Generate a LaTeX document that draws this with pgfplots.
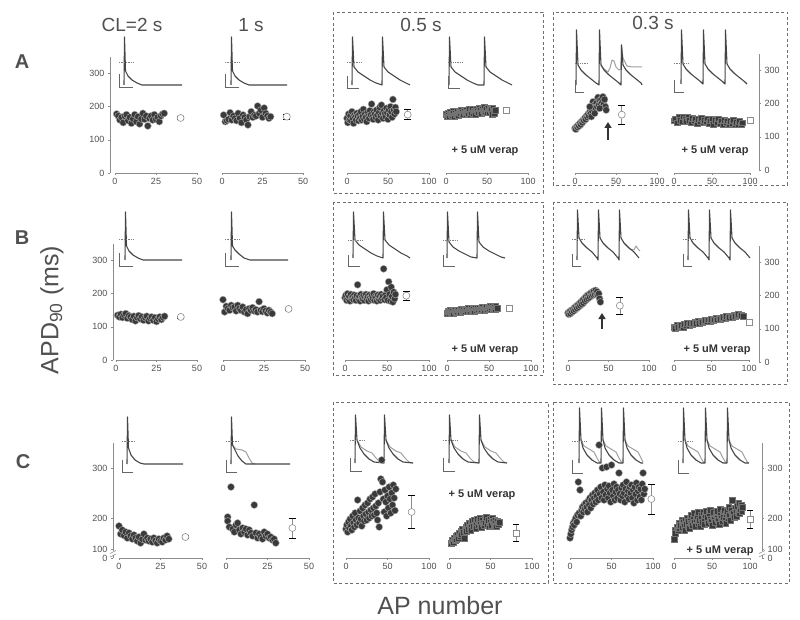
\documentclass[border=0pt]{standalone}
\usepackage{fontspec}
\setmainfont{Liberation Sans}
\usepackage{pgfplots}
\pgfplotsset{compat=1.18}
\usetikzlibrary{arrows.meta}
\definecolor{txt}{HTML}{505050}
\definecolor{axl}{HTML}{8C8C8C}
\definecolor{dotc}{HTML}{3A3A3A}
\definecolor{trcc}{HTML}{454545}
\definecolor{boxc}{HTML}{6E6E6E}
\newcommand\tl{\fontsize{9}{10}\selectfont}
\pgfplotsset{
  base/.style={scale only axis, clip=false, tick align=outside, major tick length=2pt,
    tick style={draw=axl, line width=0.5pt},
    tick label style={font=\tl, text=txt},
    /pgf/number format/assume math mode=true},
  panel/.style={base, axis x line*=bottom, axis y line=none,
    x axis line style={draw=axl, line width=0.7pt, -}, xmin=0},
  rowA/.style={ymin=0, ymax=350, height=116pt},
  rowC/.style={ymin=120, ymax=350, height=115pt},
  sh/.style={xmax=50, xtick={0,25,50}},
  lg/.style={xmax=100, xtick={0,50,100}},
  yL/.style={base, width=1pt, xmin=0, xmax=1, axis x line=none, axis y line*=left,
    y axis line style={draw=axl, line width=0.7pt, -}, ytick={0,100,200,300}},
  yR/.style={base, width=1pt, xmin=0, xmax=1, axis x line=none, axis y line*=right,
    y axis line style={draw=axl, line width=0.7pt, -}, ytick={0,100,200,300}},
  dots/.style={only marks, mark=*, mark size=3.5pt, mark options={fill=dotc, draw=gray!60, line width=0.4pt}},
  sqs/.style={only marks, mark=square*, mark size=2.9pt, mark options={fill=dotc, draw=black!55, line width=0.3pt}},
  meanc/.style={only marks, mark=*, mark size=3.5pt, mark options={fill=white, draw=axl, line width=0.6pt},
    error bars/y dir=both, error bars/y explicit, error bars/error bar style={draw=axl, line width=0.6pt}},
  means/.style={only marks, mark=square*, mark size=3pt, mark options={fill=white, draw=axl, line width=0.6pt},
    error bars/y dir=both, error bars/y explicit, error bars/error bar style={draw=axl, line width=0.6pt}},
  trc/.style={no marks, draw=trcc, line width=1.1pt, line join=round},
  trl/.style={no marks, draw=gray!75, line width=1.0pt, line join=round},
  sbar/.style={no marks, draw=gray!80!black, line width=0.8pt},
  zl/.style={no marks, draw=gray, densely dotted, line width=0.7pt},
}
\begin{document}
\begin{tikzpicture}
\useasboundingbox (0pt,0pt) rectangle (800pt,620pt);

% ---------- overlay: traces, boxes, text (pixel coordinates) ----------
\begin{axis}[at={(0pt,0pt)}, anchor=south west, scale only axis, width=800pt, height=620pt,
  xmin=0, xmax=800, ymin=0, ymax=620, y dir=reverse, hide axis, clip=false]
\draw[boxc, dashed, dash pattern=on 3pt off 2.5pt, line width=0.8pt] (333,12) rectangle (543,193);
\draw[boxc, dashed, dash pattern=on 3pt off 2.5pt, line width=0.8pt] (553,12) rectangle (787,185);
\draw[boxc, dashed, dash pattern=on 3pt off 2.5pt, line width=0.8pt] (333,202) rectangle (543,375);
\draw[boxc, dashed, dash pattern=on 3pt off 2.5pt, line width=0.8pt] (553,202) rectangle (787,384);
\draw[boxc, dashed, dash pattern=on 3pt off 2.5pt, line width=0.8pt] (333,402) rectangle (548,583);
\draw[boxc, dashed, dash pattern=on 3pt off 2.5pt, line width=0.8pt] (553,402) rectangle (789,583);

% row A traces
\addplot[trc] coordinates {(124,85)(124.5,37)(125.5,71)(128,76)(132,80)(137,83)(142,85)(182,85)};
\addplot[trc] coordinates {(231,85)(231.5,37)(232.5,71)(235,76)(239,80)(244,83)(249,85)(287,85)};
\addplot[trc] coordinates {(352,85)(352.5,37)(354,67)(358,72)(364,76)(370,80)(376,83)(382,85)(382.5,37)(384,67)(388,72)(394,76)(400,80)(406,83)(410,85)};
\addplot[trc] coordinates {(449,85)(449.5,37)(451,67)(455,72)(461,76)(467,80)(473,83)(478,85)(484,85)(484.5,37)(486,67)(490,72)(496,76)(502,80)(508,83)(512,85)};
\addplot[trl] coordinates {(601,65)(604,69)(608,72)(610,68)(612,60)(614,61)(616,67)(619,70)(621,69)(621.5,45)(623,58)(627,66)(632,67)(642,67)};
\addplot[trc] coordinates {(576,85)(576.5,30)(578,65)(581,70)(586,75)(591,79)(596,83)(599,85)(599.5,30)(601,65)(604,70)(609,75)(614,79)(619,83)(621,85)(621.5,45)(623,65)(626,70)(631,75)(636,79)(641,83)(642,85)};
\addplot[trc] coordinates {(681,84)(681.5,30)(683,64)(686,69)(691,74)(696,78)(701,82)(703,84)(703.5,30)(705,64)(708,69)(713,74)(718,78)(723,82)(725,84)(725.5,30)(727,64)(730,69)(735,74)(740,78)(745,82)(747,84)};
% row B traces
\addplot[trc] coordinates {(125,260)(125.5,212)(126.5,246)(129,251)(133,255)(138,258)(143,260)(182,260)};
\addplot[trc] coordinates {(231,260)(231.5,212)(232.5,246)(235,250)(239,254)(244,258)(250,260)(288,260)};
\addplot[trc] coordinates {(353,258)(353.5,212)(355,240)(359,245)(365,249)(371,253)(377,256)(383,258)(383.5,212)(385,240)(389,245)(395,249)(401,253)(407,256)(410,258)};
\addplot[trc] coordinates {(447,258)(447.5,212)(449,242)(453,247)(459,251)(465,254)(471,257)(477,258)(477.5,212)(479,242)(483,247)(489,251)(495,254)(501,257)(505,258)};
\addplot[trl] coordinates {(624,243)(630,249)(634,250)(636,246)(638,249)(640,251)};
\addplot[trc] coordinates {(577,260)(577.5,210)(579,238)(582,243)(587,248)(592,252)(597,258)(598,260)(598.5,210)(600,238)(603,243)(608,248)(613,252)(618,258)(619,260)(619.5,210)(621,238)(624,243)(629,248)(634,252)(639,258)};
\addplot[trc] coordinates {(688,260)(688.5,210)(690,238)(693,243)(698,248)(703,252)(708,258)(709,260)(709.5,210)(711,238)(714,243)(719,248)(724,252)(729,258)(730,260)(730.5,210)(732,238)(735,243)(740,248)(745,252)(750,258)};
% row C traces
\addplot[trc] coordinates {(127,464)(127.5,417)(128.5,448)(131,455)(135,460)(140,463)(144,464)(183,464)};
\addplot[trl] coordinates {(232.5,445)(236,449)(242,450)(246,452)(249,458)(252,463)(255,464)};
\addplot[trc] coordinates {(231,464)(231.5,417)(232.5,445)(235,450)(238,456)(242,461)(246,464)(290,464)};
\addplot[trl] coordinates {(357,440)(361,447)(367,451)(372,453)(376,458)(380,462)(384,463)};
\addplot[trl] coordinates {(386,440)(390,447)(396,451)(401,453)(405,458)(409,462)(413,463)};
\addplot[trc] coordinates {(355,463)(355.5,415)(357,440)(360,448)(364,454)(369,459)(374,462)(384,463)(384.5,415)(386,440)(389,448)(393,454)(398,459)(403,462)(413,463)};
\addplot[trl] coordinates {(451,440)(455,447)(461,451)(466,453)(470,458)(474,462)(479,463)};
\addplot[trl] coordinates {(481,440)(485,447)(491,451)(496,453)(500,458)(504,462)(507,463)};
\addplot[trc] coordinates {(449,463)(449.5,415)(451,440)(454,448)(458,454)(463,459)(468,462)(479,463)(479.5,415)(481,440)(484,448)(488,454)(493,459)(498,462)(507,463)};
\addplot[trl] coordinates {(581,440)(584,446)(589,449)(594,452)(597,458)(600,463)};
\addplot[trl] coordinates {(603,440)(606,446)(611,449)(616,452)(619,458)(622,463)};
\addplot[trl] coordinates {(625,440)(628,446)(633,449)(638,452)(641,458)(643,462)};
\addplot[trc] coordinates {(579,463)(579.5,408)(581,440)(583,448)(587,455)(592,460)(597,463)(601,463)(601.5,408)(603,440)(605,448)(609,455)(614,460)(619,463)(623,463)(623.5,408)(625,440)(627,448)(631,455)(636,460)(641,463)(643,463)};
\addplot[trl] coordinates {(685,440)(688,446)(693,449)(698,452)(701,458)(704,463)};
\addplot[trl] coordinates {(707,440)(710,446)(715,449)(720,452)(723,458)(726,463)};
\addplot[trl] coordinates {(729,440)(732,446)(737,449)(742,452)(745,458)(748,463)};
\addplot[trc] coordinates {(683,463)(683.5,408)(685,440)(687,448)(691,455)(696,460)(701,463)(705,463)(705.5,408)(707,440)(709,448)(713,455)(718,460)(723,463)(727,463)(727.5,408)(729,440)(731,448)(735,455)(740,460)(745,463)(749,463)};

% scale bars and zero-voltage marks
\addplot[sbar] coordinates {(119,74)(119,87)(133,87)};   \addplot[zl] coordinates {(119,62)(133,62)};
\addplot[sbar] coordinates {(225,74)(225,87)(239,87)};   \addplot[zl] coordinates {(225,62)(239,62)};
\addplot[sbar] coordinates {(347,76)(347,88)(359,88)};   \addplot[zl] coordinates {(347,62)(362,62)};
\addplot[sbar] coordinates {(448,76)(448,88)(460,88)};   \addplot[zl] coordinates {(448,62)(463,62)};
\addplot[sbar] coordinates {(575,80)(575,92)(584,92)};   \addplot[zl] coordinates {(575,63)(588,63)};
\addplot[sbar] coordinates {(674,80)(674,92)(684,92)};   \addplot[zl] coordinates {(674,63)(689,63)};
\addplot[sbar] coordinates {(119,253)(119,266)(133,266)}; \addplot[zl] coordinates {(119,239)(133,239)};
\addplot[sbar] coordinates {(225,253)(225,266)(239,266)}; \addplot[zl] coordinates {(225,239)(239,239)};
\addplot[sbar] coordinates {(348,255)(348,266)(360,266)}; \addplot[zl] coordinates {(348,240)(362,240)};
\addplot[sbar] coordinates {(443,255)(443,266)(455,266)}; \addplot[zl] coordinates {(443,240)(457,240)};
\addplot[sbar] coordinates {(572,254)(572,266)(581,266)}; \addplot[zl] coordinates {(572,239)(585,239)};
\addplot[sbar] coordinates {(683,254)(683,266)(692,266)}; \addplot[zl] coordinates {(683,239)(696,239)};
\addplot[sbar] coordinates {(122,460)(122,472)(133,472)}; \addplot[zl] coordinates {(122,441)(135,441)};
\addplot[sbar] coordinates {(226,460)(226,472)(237,472)}; \addplot[zl] coordinates {(226,441)(239,441)};
\addplot[sbar] coordinates {(350,458)(350,471)(362,471)}; \addplot[zl] coordinates {(350,440)(364,440)};
\addplot[sbar] coordinates {(443,458)(443,471)(455,471)}; \addplot[zl] coordinates {(443,440)(457,440)};
\addplot[sbar] coordinates {(572,460)(572,473)(583,473)}; \addplot[zl] coordinates {(572,441)(586,441)};
\addplot[sbar] coordinates {(678,460)(678,473)(689,473)}; \addplot[zl] coordinates {(678,441)(692,441)};

% labels
\node[font=\bfseries\fontsize{20}{22}\selectfont, text=txt] at (22,62) {A};
\node[font=\bfseries\fontsize{20}{22}\selectfont, text=txt] at (22,238) {B};
\node[font=\bfseries\fontsize{20}{22}\selectfont, text=txt] at (23,462) {C};
\node[font=\fontsize{19}{21}\selectfont, text=txt] at (132,25) {CL=2 s};
\node[font=\fontsize{19}{21}\selectfont, text=txt] at (251,25) {1 s};
\node[font=\fontsize{19}{21}\selectfont, text=txt] at (421,25) {0.5 s};
\node[font=\fontsize{19}{21}\selectfont, text=txt] at (653,23) {0.3 s};
\node[rotate=90, font=\fontsize{25}{28}\selectfont, text=txt] at (52,310) {APD\textsubscript{90} (ms)};
\node[font=\fontsize{25}{28}\selectfont, text=txt] at (440,606) {AP number};
\node[font=\bfseries\fontsize{11}{12}\selectfont, text=black!80] at (485,151) {+ 5 uM verap};
\node[font=\bfseries\fontsize{11}{12}\selectfont, text=black!80] at (715,151) {+ 5 uM verap};
\node[font=\bfseries\fontsize{11}{12}\selectfont, text=black!80] at (485,350) {+ 5 uM verap};
\node[font=\bfseries\fontsize{11}{12}\selectfont, text=black!80] at (717,350) {+ 5 uM verap};
\node[font=\bfseries\fontsize{11}{12}\selectfont, text=black!80] at (482,495) {+ 5 uM verap};
\node[font=\bfseries\fontsize{11}{12}\selectfont, text=black!80] at (720,551) {+ 5 uM verap};
\draw[-{Triangle[length=6pt,width=7pt]}, line width=2pt, black!80] (608,140) -- (608,122);
\draw[-{Triangle[length=6pt,width=7pt]}, line width=2pt, black!80] (602,329) -- (602,313);
\end{axis}

% ---------- y axes ----------
\begin{axis}[yL, rowA, at={(110pt,447pt)}, anchor=south west]
\addplot[draw=none] coordinates {(0,0)};
\end{axis}
\begin{axis}[yR, rowA, at={(759pt,450pt)}, anchor=south east]
\addplot[draw=none] coordinates {(0,0)};
\end{axis}
\begin{axis}[yL, rowA, at={(113pt,260pt)}, anchor=south west]
\addplot[draw=none] coordinates {(0,0)};
\end{axis}
\begin{axis}[yR, rowA, at={(759pt,258pt)}, anchor=south east]
\addplot[draw=none] coordinates {(0,0)};
\end{axis}
\begin{axis}[yL, rowC, at={(113pt,62pt)}, anchor=south west, ytick={200,300}, extra y ticks={138,120}, extra y tick labels={100,0}]
\addplot[draw=none] coordinates {(0,200)};
\draw[white, line width=3pt] (0,125) -- (0,133);
\draw[axl, line width=0.6pt] ([xshift=-3pt]0,122) -- ([xshift=3pt]0,128);
\draw[axl, line width=0.6pt] ([xshift=-3pt]0,129) -- ([xshift=3pt]0,135);
\end{axis}
\begin{axis}[yR, rowC, at={(762pt,62pt)}, anchor=south east, ytick={200,300}, extra y ticks={138,120}, extra y tick labels={100,0}]
\addplot[draw=none] coordinates {(0,200)};
\draw[white, line width=3pt] (1,125) -- (1,133);
\draw[axl, line width=0.6pt] ([xshift=-3pt]1,122) -- ([xshift=3pt]1,128);
\draw[axl, line width=0.6pt] ([xshift=-3pt]1,129) -- ([xshift=3pt]1,135);
\end{axis}

% ---------- row A ----------
\begin{axis}[panel, rowA, sh, at={(115pt,447pt)}, anchor=south west, width=82pt]
\addplot[dots] coordinates {(1,178)(2,172)(3,160)(4,168)(5,152)(6,172)(7,176)(8,158)(9,168)(10,150)(11,163)(12,176)(13,155)(14,170)(15,148)(16,163)(17,180)(18,162)(19,172)(20,142)(21,165)(22,172)(23,160)(24,176)(25,162)(26,168)(27,155)(28,172)(29,178)(30,180)};
\addplot[meanc] coordinates {(40,166) +- (0,4)};
\end{axis}
\begin{axis}[panel, rowA, sh, at={(222pt,447pt)}, anchor=south west, width=81pt]
\addplot[dots] coordinates {(1,175)(2,155)(3,158)(4,162)(5,182)(6,160)(7,172)(8,165)(9,158)(10,180)(11,165)(12,152)(13,175)(14,168)(15,160)(16,145)(17,170)(18,185)(19,168)(20,175)(21,172)(22,202)(23,180)(24,190)(25,168)(26,196)(27,180)(28,172)(29,165)(30,170)};
\addplot[meanc] coordinates {(40,170) +- (0,8)};
\end{axis}
\begin{axis}[panel, rowA, lg, at={(347pt,447pt)}, anchor=south west, width=82pt]
\addplot[dots] coordinates {(0,165)(1,152)(2,178)(3,160)(4,172)(5,158)(6,185)(7,165)(8,150)(9,175)(10,168)(11,160)(12,180)(13,172)(14,158)(15,176)(16,165)(17,185)(18,160)(19,170)(20,192)(21,162)(22,178)(23,168)(24,155)(25,182)(26,172)(27,165)(28,188)(29,175)(30,208)(31,170)(32,162)(33,185)(34,178)(35,168)(36,190)(37,175)(38,160)(39,182)(40,198)(41,172)(42,205)(43,180)(44,165)(45,188)(46,178)(47,170)(48,195)(49,182)(50,162)(51,190)(52,175)(53,200)(54,185)(55,168)(56,222)(57,190)(58,178)(59,198)(60,185)};
\addplot[meanc] coordinates {(74,176) +- (0,15)};
\end{axis}
\begin{axis}[panel, rowA, lg, at={(446pt,447pt)}, anchor=south west, width=82pt]
\addplot[sqs] coordinates {(0,178)(1,172)(2,182)(3,176)(4,170)(5,184)(6,178)(7,174)(8,186)(9,180)(10,172)(11,182)(12,176)(13,188)(14,178)(15,174)(16,184)(17,180)(18,190)(19,176)(20,184)(21,178)(22,188)(23,182)(24,176)(25,190)(26,184)(27,180)(28,192)(29,178)(30,186)(31,182)(32,194)(33,180)(34,188)(35,184)(36,178)(37,192)(38,186)(39,182)(40,196)(41,184)(42,190)(43,180)(44,194)(45,188)(46,184)(47,198)(48,186)(49,192)(50,182)(51,196)(52,188)(53,184)(54,194)(55,190)(56,178)(57,196)(58,186)(59,180)(60,190)};
\addplot[means] coordinates {(74,189) +- (0,3)};
\end{axis}
\begin{axis}[panel, rowA, lg, at={(575pt,447pt)}, anchor=south west, width=82pt]
\addplot[dots] coordinates {(0,135)(1,132)(2,140)(3,138)(4,145)(5,142)(6,150)(7,146)(8,155)(9,152)(10,160)(11,158)(12,166)(13,162)(14,172)(15,168)(16,178)(17,172)(18,185)(19,180)(20,192)(21,186)(22,215)(23,192)(24,205)(25,196)(26,210)(27,200)(28,228)(29,205)(30,218)(31,208)(32,222)(33,212)(34,230)(35,208)(36,222)(37,200)(38,190)(18,200)(20,170)(24,180)(30,195)};
\addplot[meanc] coordinates {(57,176) +- (0,28)};
\end{axis}
\begin{axis}[panel, rowA, lg, at={(674pt,447pt)}, anchor=south west, width=76pt]
\addplot[sqs] coordinates {(0,158)(2,164)(4,152)(6,168)(8,160)(10,155)(12,170)(14,162)(16,156)(18,168)(20,160)(22,152)(24,165)(26,158)(28,164)(30,150)(32,162)(34,156)(36,166)(38,152)(40,160)(42,155)(44,164)(46,150)(48,158)(50,162)(52,148)(54,160)(56,154)(58,164)(60,150)(62,158)(64,146)(66,160)(68,152)(70,158)(72,148)(74,156)(76,150)(78,160)(80,146)(82,154)(84,148)(86,156)(88,146)(90,152)};
\addplot[means] coordinates {(100,158) +- (0,3)};
\end{axis}

% ---------- row B ----------
\begin{axis}[panel, rowA, sh, at={(116pt,260pt)}, anchor=south west, width=81pt]
\addplot[dots] coordinates {(1,135)(2,130)(3,138)(4,128)(5,136)(6,140)(7,126)(8,134)(9,130)(10,122)(11,132)(12,118)(13,128)(14,134)(15,124)(16,130)(17,120)(18,128)(19,132)(20,118)(21,126)(22,130)(23,120)(24,128)(25,116)(26,124)(27,130)(28,122)(29,128)(30,132)};
\addplot[meanc] coordinates {(40,130) +- (0,3)};
\end{axis}
\begin{axis}[panel, rowA, sh, at={(223pt,260pt)}, anchor=south west, width=82pt]
\addplot[dots] coordinates {(0,182)(1,145)(2,162)(3,155)(4,150)(5,165)(6,158)(7,160)(8,148)(9,165)(10,155)(11,150)(12,160)(13,145)(14,152)(15,140)(16,155)(17,150)(18,158)(19,148)(20,152)(21,145)(22,176)(23,150)(24,146)(25,155)(26,148)(27,142)(28,150)(29,145)(30,140)};
\addplot[meanc] coordinates {(40,154) +- (0,3)};
\end{axis}
\begin{axis}[panel, rowA, lg, at={(345pt,260pt)}, anchor=south west, width=84pt]
\addplot[dots] coordinates {(0,188)(1,195)(2,180)(3,200)(4,185)(5,192)(6,178)(7,198)(8,186)(9,190)(10,182)(11,196)(12,188)(13,180)(14,194)(15,227)(16,185)(17,192)(18,178)(19,198)(20,188)(21,184)(22,194)(23,180)(24,190)(25,198)(26,185)(27,192)(28,178)(29,196)(30,188)(31,182)(32,195)(33,186)(34,200)(35,180)(36,192)(37,188)(38,178)(39,196)(40,185)(41,192)(42,180)(43,198)(44,186)(45,192)(46,275)(47,182)(48,196)(49,188)(50,212)(51,180)(52,236)(53,198)(54,178)(55,220)(56,192)(57,175)(58,205)(59,185)(60,198)};
\addplot[meanc] coordinates {(73,194) +- (0,15)};
\end{axis}
\begin{axis}[panel, rowA, lg, at={(447pt,260pt)}, anchor=south west, width=84pt]
\addplot[sqs] coordinates {(0,142)(1,148)(2,140)(3,146)(4,150)(5,144)(6,148)(7,142)(8,152)(9,146)(10,150)(11,144)(12,148)(13,152)(14,146)(15,150)(16,144)(17,154)(18,148)(19,150)(20,146)(21,154)(22,148)(23,152)(24,146)(25,156)(26,150)(27,152)(28,148)(29,156)(30,150)(31,154)(32,148)(33,158)(34,152)(35,150)(36,156)(37,152)(38,158)(39,150)(40,156)(41,152)(42,160)(43,154)(44,150)(45,158)(46,154)(47,160)(48,152)(49,158)(50,156)(51,162)(52,154)(53,158)(54,164)(55,156)(56,160)(57,154)(58,162)(59,158)(60,156)};
\addplot[means] coordinates {(74,155) +- (0,3)};
\end{axis}
\begin{axis}[panel, rowA, lg, at={(568pt,260pt)}, anchor=south west, width=81pt]
\addplot[dots] coordinates {(0,142)(1,138)(2,146)(3,140)(4,150)(5,145)(6,152)(7,148)(8,158)(9,152)(10,162)(11,156)(12,166)(13,160)(14,170)(15,164)(16,175)(17,168)(18,180)(19,172)(20,185)(21,178)(22,190)(23,182)(24,195)(25,186)(26,198)(27,190)(28,202)(29,194)(30,205)(31,196)(32,208)(33,198)(34,210)(35,200)(36,206)(37,195)(38,200)(39,185)(40,175)};
\addplot[meanc] coordinates {(64,164) +- (0,26)};
\end{axis}
\begin{axis}[panel, rowA, lg, at={(674pt,260pt)}, anchor=south west, width=75pt]
\addplot[sqs] coordinates {(0,100)(2,96)(4,104)(6,98)(8,102)(10,106)(12,100)(14,108)(16,104)(18,110)(20,106)(22,112)(24,108)(26,110)(28,114)(30,110)(32,116)(34,112)(36,118)(38,114)(40,116)(42,120)(44,116)(46,122)(48,118)(50,124)(52,120)(54,122)(56,126)(58,122)(60,128)(62,124)(64,126)(66,130)(68,126)(70,132)(72,128)(74,130)(76,134)(78,130)(80,136)(82,132)(84,134)(86,138)(88,134)(90,136)(92,132)};
\addplot[means] coordinates {(100,115) +- (0,3)};
\end{axis}

% ---------- row C ----------
\begin{axis}[panel, rowC, sh, at={(119pt,62pt)}, anchor=south west, width=83pt]
\addplot[dots] coordinates {(0,184)(1,168)(2,176)(3,165)(4,172)(5,160)(6,170)(7,164)(8,158)(9,166)(10,160)(11,154)(12,162)(13,150)(14,158)(15,168)(16,156)(17,160)(18,154)(19,158)(20,152)(21,160)(22,155)(23,150)(24,158)(25,154)(26,152)(27,160)(28,156)(29,164)(30,158)};
\addplot[meanc] coordinates {(40,162) +- (0,3)};
\end{axis}
\begin{axis}[panel, rowC, sh, at={(226pt,62pt)}, anchor=south west, width=83pt]
\addplot[dots] coordinates {(1,202)(1,194)(3,262)(2,182)(4,178)(5,172)(6,186)(7,190)(8,176)(9,168)(10,180)(11,172)(12,178)(13,166)(14,176)(15,170)(16,164)(17,226)(18,170)(19,160)(20,168)(21,162)(22,158)(23,172)(24,164)(25,168)(26,160)(27,162)(28,156)(29,158)(30,150)};
\addplot[meanc] coordinates {(40,180) +- (0,20)};
\end{axis}
\begin{axis}[panel, rowC, lg, at={(346pt,62pt)}, anchor=south west, width=83pt]
\addplot[dots] coordinates {(0,178)(1,186)(2,172)(3,192)(4,180)(5,198)(6,184)(7,176)(8,204)(9,190)(10,182)(11,210)(12,196)(13,186)(14,236)(15,200)(16,190)(17,214)(18,198)(19,184)(20,220)(21,204)(22,194)(23,226)(24,208)(25,196)(26,230)(27,212)(28,200)(29,238)(30,216)(31,204)(32,242)(33,220)(34,206)(35,248)(36,224)(37,210)(38,196)(39,230)(40,182)(41,252)(42,278)(43,316)(44,272)(45,238)(46,212)(47,256)(48,232)(49,204)(50,244)(51,220)(52,262)(53,238)(54,210)(55,250)(56,226)(57,266)(58,240)(59,215)(60,258)};
\addplot[meanc] coordinates {(79,212) +- (0,33)};
\end{axis}
\begin{axis}[panel, rowC, lg, at={(449pt,62pt)}, anchor=south west, width=83pt]
\addplot[sqs] coordinates {(3,150)(4,156)(5,152)(6,160)(7,155)(8,164)(9,158)(10,166)(11,160)(12,170)(13,164)(14,174)(15,168)(16,178)(17,172)(18,160)(19,176)(20,182)(21,174)(22,186)(23,178)(24,190)(25,182)(26,176)(27,188)(28,194)(29,184)(30,196)(31,186)(32,180)(33,192)(34,198)(35,186)(36,194)(37,200)(38,188)(39,182)(40,196)(41,190)(42,186)(43,198)(44,192)(45,202)(46,188)(47,196)(48,184)(49,198)(50,192)(51,186)(52,200)(53,194)(54,188)(55,196)(56,190)(57,184)(58,194)(59,188)(60,192)};
\addplot[means] coordinates {(81,170) +- (0,17)};
\end{axis}
\begin{axis}[panel, rowC, lg, at={(570pt,62pt)}, anchor=south west, width=83pt]
\addplot[dots] coordinates {(0,160)(1,168)(2,176)(3,182)(4,190)(5,186)(6,196)(7,200)(8,192)(9,206)(10,272)(11,210)(12,256)(13,204)(14,216)(15,222)(16,212)(17,226)(18,218)(19,230)(20,222)(21,212)(22,234)(23,226)(24,240)(25,220)(26,236)(27,246)(28,228)(29,240)(30,250)(31,232)(32,244)(33,256)(34,236)(35,346)(36,248)(37,262)(38,240)(39,300)(40,252)(41,236)(42,266)(43,246)(44,302)(45,258)(46,240)(47,264)(48,250)(49,232)(50,306)(51,256)(52,244)(53,268)(54,236)(55,252)(56,262)(57,240)(58,256)(59,290)(60,248)(61,236)(62,260)(63,244)(64,266)(65,250)(66,232)(67,258)(68,272)(69,244)(70,254)(71,238)(72,262)(73,250)(74,266)(75,240)(76,256)(77,230)(78,262)(79,248)(80,270)(81,236)(82,254)(83,262)(84,242)(85,258)(86,236)(87,268)(88,290)(89,248)(90,258)};
\addplot[meanc] coordinates {(98,238) +- (0,30)};
\end{axis}
\begin{axis}[panel, rowC, lg, at={(674pt,62pt)}, anchor=south west, width=76pt]
\addplot[sqs] coordinates {(0,158)(1,176)(2,170)(4,182)(5,176)(6,190)(7,180)(8,186)(10,196)(11,182)(12,192)(13,186)(14,176)(15,196)(16,188)(17,200)(18,184)(19,194)(20,180)(21,198)(22,190)(23,206)(24,186)(25,200)(26,192)(27,210)(28,184)(29,198)(30,204)(31,190)(32,212)(33,196)(34,184)(35,206)(36,200)(37,192)(38,212)(39,198)(40,188)(41,206)(42,214)(43,196)(44,202)(45,190)(46,210)(47,198)(48,216)(49,194)(50,186)(51,204)(52,212)(53,198)(54,192)(55,208)(56,200)(57,214)(58,196)(59,188)(60,206)(61,218)(62,200)(63,194)(64,210)(65,202)(66,216)(67,198)(68,190)(69,208)(70,214)(71,200)(72,222)(73,206)(74,196)(75,216)(76,208)(77,236)(78,210)(79,202)(80,220)(81,212)(82,204)(83,224)(84,212)(85,230)(86,210)(87,218)(88,226)(89,214)(90,222)};
\addplot[means] coordinates {(100,198) +- (0,18)};
\end{axis}
\end{tikzpicture}
\end{document}
